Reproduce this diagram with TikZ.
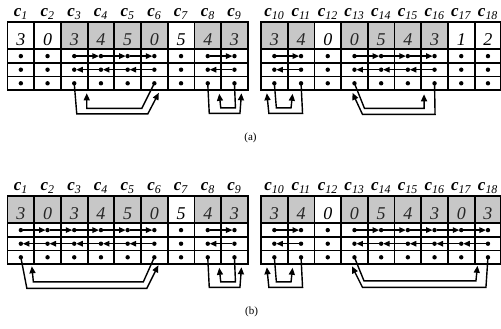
\documentclass[tikz,border=0pt]{standalone}
\usepackage{fontspec}
\setmainfont{Liberation Serif}
\usetikzlibrary{arrows.meta,calc}
\tikzset{
  valcell/.style={draw, line width=1.8pt, minimum width=26.7pt, minimum height=27.6pt, inner sep=0pt, text height=20pt, text depth=0pt, font=\fontsize{18}{18}\selectfont\itshape},
  dotcell/.style={draw, line width=1.8pt, minimum width=26.7pt, minimum height=13.6pt, inner sep=0pt, path picture={\fill (path picture bounding box.center) circle (2.2pt);}},
  lbl/.style={anchor=base, inner sep=0pt, font=\fontsize{17}{17}\selectfont},
  capn/.style={font=\fontsize{11}{11}\selectfont},
  harr/.style={-{Triangle[length=6.5pt,width=5.5pt]}, line width=1.3pt, shorten <=2pt, shorten >=2pt},
  link/.style={-{Triangle[length=7pt,width=6pt]}, line width=1.4pt},
}
\begin{document}
\begin{tikzpicture}[x=1pt,y=1pt]
\useasboundingbox (0,0) rectangle (501,-329);
% (a)
\foreach \i/\v/\s in {1/3/0,2/0/0,3/3/1,4/4/1,5/5/1,6/0/1,7/5/0,8/4/1,9/3/1,10/3/1,11/4/1,12/0/0,13/0/1,14/5/1,15/4/1,16/3/1,17/1/0,18/2/0}{
  \pgfmathsetmacro\xc{\i<10 ? 7.5+26.7*(\i-0.5) : 261+26.7*(\i-9.5)}
  \pgfmathtruncatemacro\fl{22*\s}
  \pgfmathtruncatemacro\tl{100-15*\s}
  \node[lbl] (alb\i) at (\xc,-16.5) {\textbf{\textit{c}}\textsubscript{\textit{\i}}};
  \node[valcell, fill=black!\fl, text=black!\tl] (a\i) at (\xc,-35.5) {\v};
  \node[dotcell] (ap\i) at (\xc,-56.1) {};
  \node[dotcell] (aq\i) at (\xc,-69.7) {};
  \node[dotcell] (ar\i) at (\xc,-83.3) {};
}
\foreach \i/\j in {3/4,4/5,5/6,8/9,10/11,13/14,14/15,15/16}{
  \draw[harr] (ap\i.center) -- (ap\j.center);
  \draw[harr] (aq\j.center) -- (aq\i.center);
}
\draw[link] (ar3.center) -- ($(ar3.center)+(2.5,-30.5)$) -- ($(ar6.center)+(-6.5,-30.5)$) -- ($(ar6.center)+(4.5,-9.5)$);
\draw[link] (ar6.center) -- ($(ar6.center)+(-12.5,-25)$) -- ($(ar3.center)+(12.5,-25)$) -- ($(ar3.center)+(12.5,-10)$);
\draw[link] (ar8.center) -- ($(ar8.center)+(1.5,-30)$) -- ($(ar9.center)+(5.5,-30)$) -- ($(ar9.center)+(7,-10)$);
\draw[link] (ar9.center) -- ($(ar9.center)+(1,-24.5)$) -- ($(ar8.center)+(13,-24.5)$) -- ($(ar8.center)+(11.5,-10.5)$);
\draw[link] (ar11.center) -- ($(ar11.center)+(1.5,-30)$) -- ($(ar10.center)+(-5.5,-30)$) -- ($(ar10.center)+(-7.5,-10)$);
\draw[link] (ar10.center) -- ($(ar10.center)+(2,-24.5)$) -- ($(ar11.center)+(-10,-24.5)$) -- ($(ar11.center)+(-8.5,-10.5)$);
\draw[link] (ar16.center) -- ($(ar16.center)+(0.5,-31)$) -- ($(ar13.center)+(8,-31)$) -- ($(ar13.center)+(-2,-9.5)$);
\draw[link] (ar13.center) -- ($(ar13.center)+(10,-25)$) -- ($(ar16.center)+(-10.5,-25)$) -- ($(ar16.center)+(-10.5,-11)$);
\node[capn] (capa) at (250.5,-138) {(a)};
% (b)
\foreach \i/\v/\s in {1/3/1,2/0/1,3/3/1,4/4/1,5/5/1,6/0/1,7/5/0,8/4/1,9/3/1,10/3/1,11/4/1,12/0/0,13/0/1,14/5/1,15/4/1,16/3/1,17/0/1,18/3/1}{
  \pgfmathsetmacro\xc{\i<10 ? 7.5+26.7*(\i-0.5) : 261+26.7*(\i-9.5)}
  \pgfmathtruncatemacro\fl{22*\s}
  \pgfmathtruncatemacro\tl{100-15*\s}
  \node[lbl] (blb\i) at (\xc,-190.5) {\textbf{\textit{c}}\textsubscript{\textit{\i}}};
  \node[valcell, fill=black!\fl, text=black!\tl] (b\i) at (\xc,-209.5) {\v};
  \node[dotcell] (bp\i) at (\xc,-230.1) {};
  \node[dotcell] (bq\i) at (\xc,-243.7) {};
  \node[dotcell] (br\i) at (\xc,-257.3) {};
}
\foreach \i/\j in {1/2,2/3,3/4,4/5,5/6,8/9,10/11,13/14,14/15,15/16,16/17,17/18}{
  \draw[harr] (bp\i.center) -- (bp\j.center);
  \draw[harr] (bq\j.center) -- (bq\i.center);
}
\draw[link] (br1.center) -- ($(br1.center)+(6,-31)$) -- ($(br6.center)+(-7.5,-31)$) -- ($(br6.center)+(4,-8)$);
\draw[link] (br6.center) -- ($(br6.center)+(-11,-24.5)$) -- ($(br1.center)+(12.5,-24.5)$) -- ($(br1.center)+(11,-9)$);
\draw[link] (br8.center) -- ($(br8.center)+(1.5,-30)$) -- ($(br9.center)+(5.5,-30)$) -- ($(br9.center)+(7,-10)$);
\draw[link] (br9.center) -- ($(br9.center)+(1,-24.5)$) -- ($(br8.center)+(13,-24.5)$) -- ($(br8.center)+(11.5,-10.5)$);
\draw[link] (br11.center) -- ($(br11.center)+(1.5,-30)$) -- ($(br10.center)+(-5.5,-30)$) -- ($(br10.center)+(-7.5,-10)$);
\draw[link] (br10.center) -- ($(br10.center)+(2,-24.5)$) -- ($(br11.center)+(-10,-24.5)$) -- ($(br11.center)+(-8.5,-10.5)$);
\draw[link] (br18.center) -- ($(br18.center)+(-2,-30)$) -- ($(br13.center)+(8,-30)$) -- ($(br13.center)+(-2.5,-9)$);
\draw[link] (br13.center) -- ($(br13.center)+(9.5,-23.5)$) -- ($(br18.center)+(-12,-23.5)$) -- ($(br18.center)+(-10.5,-8.5)$);
\node[capn] (capb) at (251.5,-311.5) {(b)};
\end{tikzpicture}
\end{document}
